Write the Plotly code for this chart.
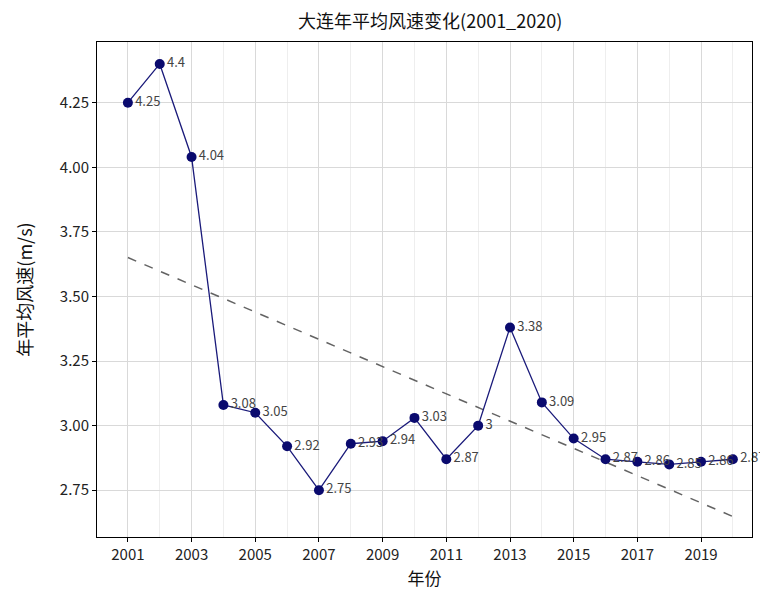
import numpy as np
import plotly.graph_objects as go

years = list(range(2001, 2021))
speeds = [4.25, 4.4, 4.04, 3.08, 3.05, 2.92, 2.75, 2.93, 2.94, 3.03,
          2.87, 3.0, 3.38, 3.09, 2.95, 2.87, 2.86, 2.85, 2.86, 2.87]
labels = [f"{v:g}" for v in speeds]
x_ticks = list(range(2001, 2020, 2))
y_ticks = [2.75, 3.00, 3.25, 3.50, 3.75, 4.00, 4.25]

coef = np.polyfit(years, speeds, 1)
trend = np.polyval(coef, years)

font = "Noto Sans CJK SC, DejaVu Sans"
fig = go.Figure()
fig.add_trace(go.Scatter(
    x=years, y=trend, mode="lines",
    line=dict(color="rgba(60,60,60,0.8)", width=1.5, dash="dash"),
    showlegend=False, hoverinfo="skip"))
fig.add_trace(go.Scatter(
    x=years, y=speeds, mode="lines+markers+text",
    line=dict(color="#1a1a7a", width=1.3),
    marker=dict(color="#0a0a6e", size=10),
    text=labels, textposition="middle right",
    textfont=dict(family=font, size=13, color="#444444"),
    cliponaxis=False,
    showlegend=False))

axis_common = dict(showline=True, linecolor="black", linewidth=1, mirror=True,
                   ticks="outside", ticklen=4, tickcolor="black",
                   showgrid=True, gridcolor="#d9d9d9", gridwidth=1,
                   tickfont=dict(family=font, size=15, color="#222"),
                   zeroline=False)
fig.update_xaxes(range=[2000.03, 2020.6], tickvals=x_ticks,
                 ticktext=[str(t) for t in x_ticks],
                 minor=dict(dtick=1, tick0=2001, showgrid=True, gridcolor="#eeeeee"),
                 title=dict(text="年份", font=dict(family=font, size=17, color="#111"), standoff=10),
                 **axis_common)
fig.update_yaxes(range=[2.569, 4.485], tickvals=y_ticks,
                 ticktext=[f"{t:.2f}" for t in y_ticks],
                 title=dict(text="年平均风速(m/s)", font=dict(family=font, size=18, color="#111"), standoff=22),
                 **axis_common)
fig.update_layout(
    width=760, height=603,
    margin=dict(l=97, r=8, t=42, b=66),
    paper_bgcolor="white", plot_bgcolor="white",
    title=dict(text="大连年平均风速变化(2001_2020)", x=0.566, xanchor="center",
               y=1 - 22 / 603, yanchor="middle",
               font=dict(family=font, size=18, color="#111")),
)
fig.write_html("out.html")
